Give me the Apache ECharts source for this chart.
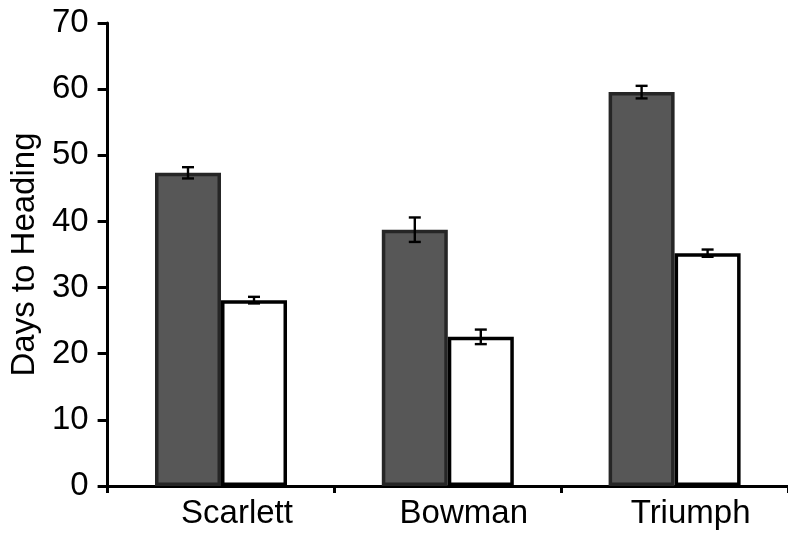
<!DOCTYPE html>
<html>
<head>
<meta charset="utf-8">
<script src="https://cdn.jsdelivr.net/npm/echarts@6/dist/echarts.min.js"></script>
<style>html,body{margin:0;padding:0;background:#fff}#c{width:788px;height:539px}</style>
</head>
<body>
<div id="c"></div>
<script>
const categories = ['Scarlett', 'Bowman', 'Triumph'];
const darkValues = [47.35, 38.75, 59.55];
const darkErrors = [0.85, 1.85, 0.95];
const whiteValues = [28.1, 22.55, 35.2];
const whiteErrors = [0.5, 1.1, 0.55];
const yTicks = [0, 10, 20, 30, 40, 50, 60, 70];

const FONT = 'Liberation Sans, Arial, sans-serif';
const chart = echarts.init(document.getElementById('c'), null, {renderer: 'canvas'});

function errorSeries(values, errors, side) {
  return {
    type: 'custom',
    z: 10,
    data: values.map((v, i) => [i, v - errors[i], v + errors[i]]),
    renderItem: function (params, api) {
      const idx = api.value(0);
      const lo = api.coord([idx, api.value(1)]);
      const hi = api.coord([idx, api.value(2)]);
      const barW = 66;
      const x = lo[0] + (side === 0 ? -barW / 2 : barW / 2);
      const cap = 6;
      const style = {stroke: '#000', lineWidth: 2.4, fill: null};
      return {
        type: 'group',
        children: [
          {type: 'line', shape: {x1: x, y1: lo[1], x2: x, y2: hi[1]}, style: style},
          {type: 'line', shape: {x1: x - cap, y1: lo[1], x2: x + cap, y2: lo[1]}, style: style},
          {type: 'line', shape: {x1: x - cap, y1: hi[1], x2: x + cap, y2: hi[1]}, style: style}
        ]
      };
    }
  };
}

chart.setOption({
  animation: false,
  grid: {left: 107, top: 23, width: 684, bottom: 53, containLabel: false},
  xAxis: {
    type: 'category',
    data: categories,
    axisLine: {lineStyle: {color: '#000', width: 3}},
    axisTick: {show: true, length: 7, lineStyle: {color: '#000', width: 3}},
    axisLabel: {color: '#000', fontSize: 33, fontFamily: FONT, margin: 11, padding: [0, 0, 0, 32]},
    splitLine: {show: false}
  },
  yAxis: {
    type: 'value',
    min: 0, max: 70, interval: 10,
    name: 'Days to Heading',
    nameLocation: 'middle',
    nameGap: 64,
    nameTextStyle: {color: '#000', fontSize: 33, fontFamily: FONT},
    axisLine: {show: true, lineStyle: {color: '#000', width: 3}},
    axisTick: {show: true, length: 10, lineStyle: {color: '#000', width: 3}},
    axisLabel: {color: '#000', fontSize: 33, fontFamily: FONT, margin: 19,
      formatter: v => yTicks.includes(v) ? String(v) : ''},
    splitLine: {show: false}
  },
  series: [
    {
      type: 'bar', data: darkValues, barWidth: 66, barGap: '0%',
      itemStyle: {color: '#575757', borderColor: '#262626', borderWidth: 3.5}
    },
    {
      type: 'bar', data: whiteValues, barWidth: 66, barGap: '0%',
      itemStyle: {color: '#ffffff', borderColor: '#000000', borderWidth: 3.5}
    },
    errorSeries(darkValues, darkErrors, 0),
    errorSeries(whiteValues, whiteErrors, 1)
  ]
});
</script>
</body>
</html>
